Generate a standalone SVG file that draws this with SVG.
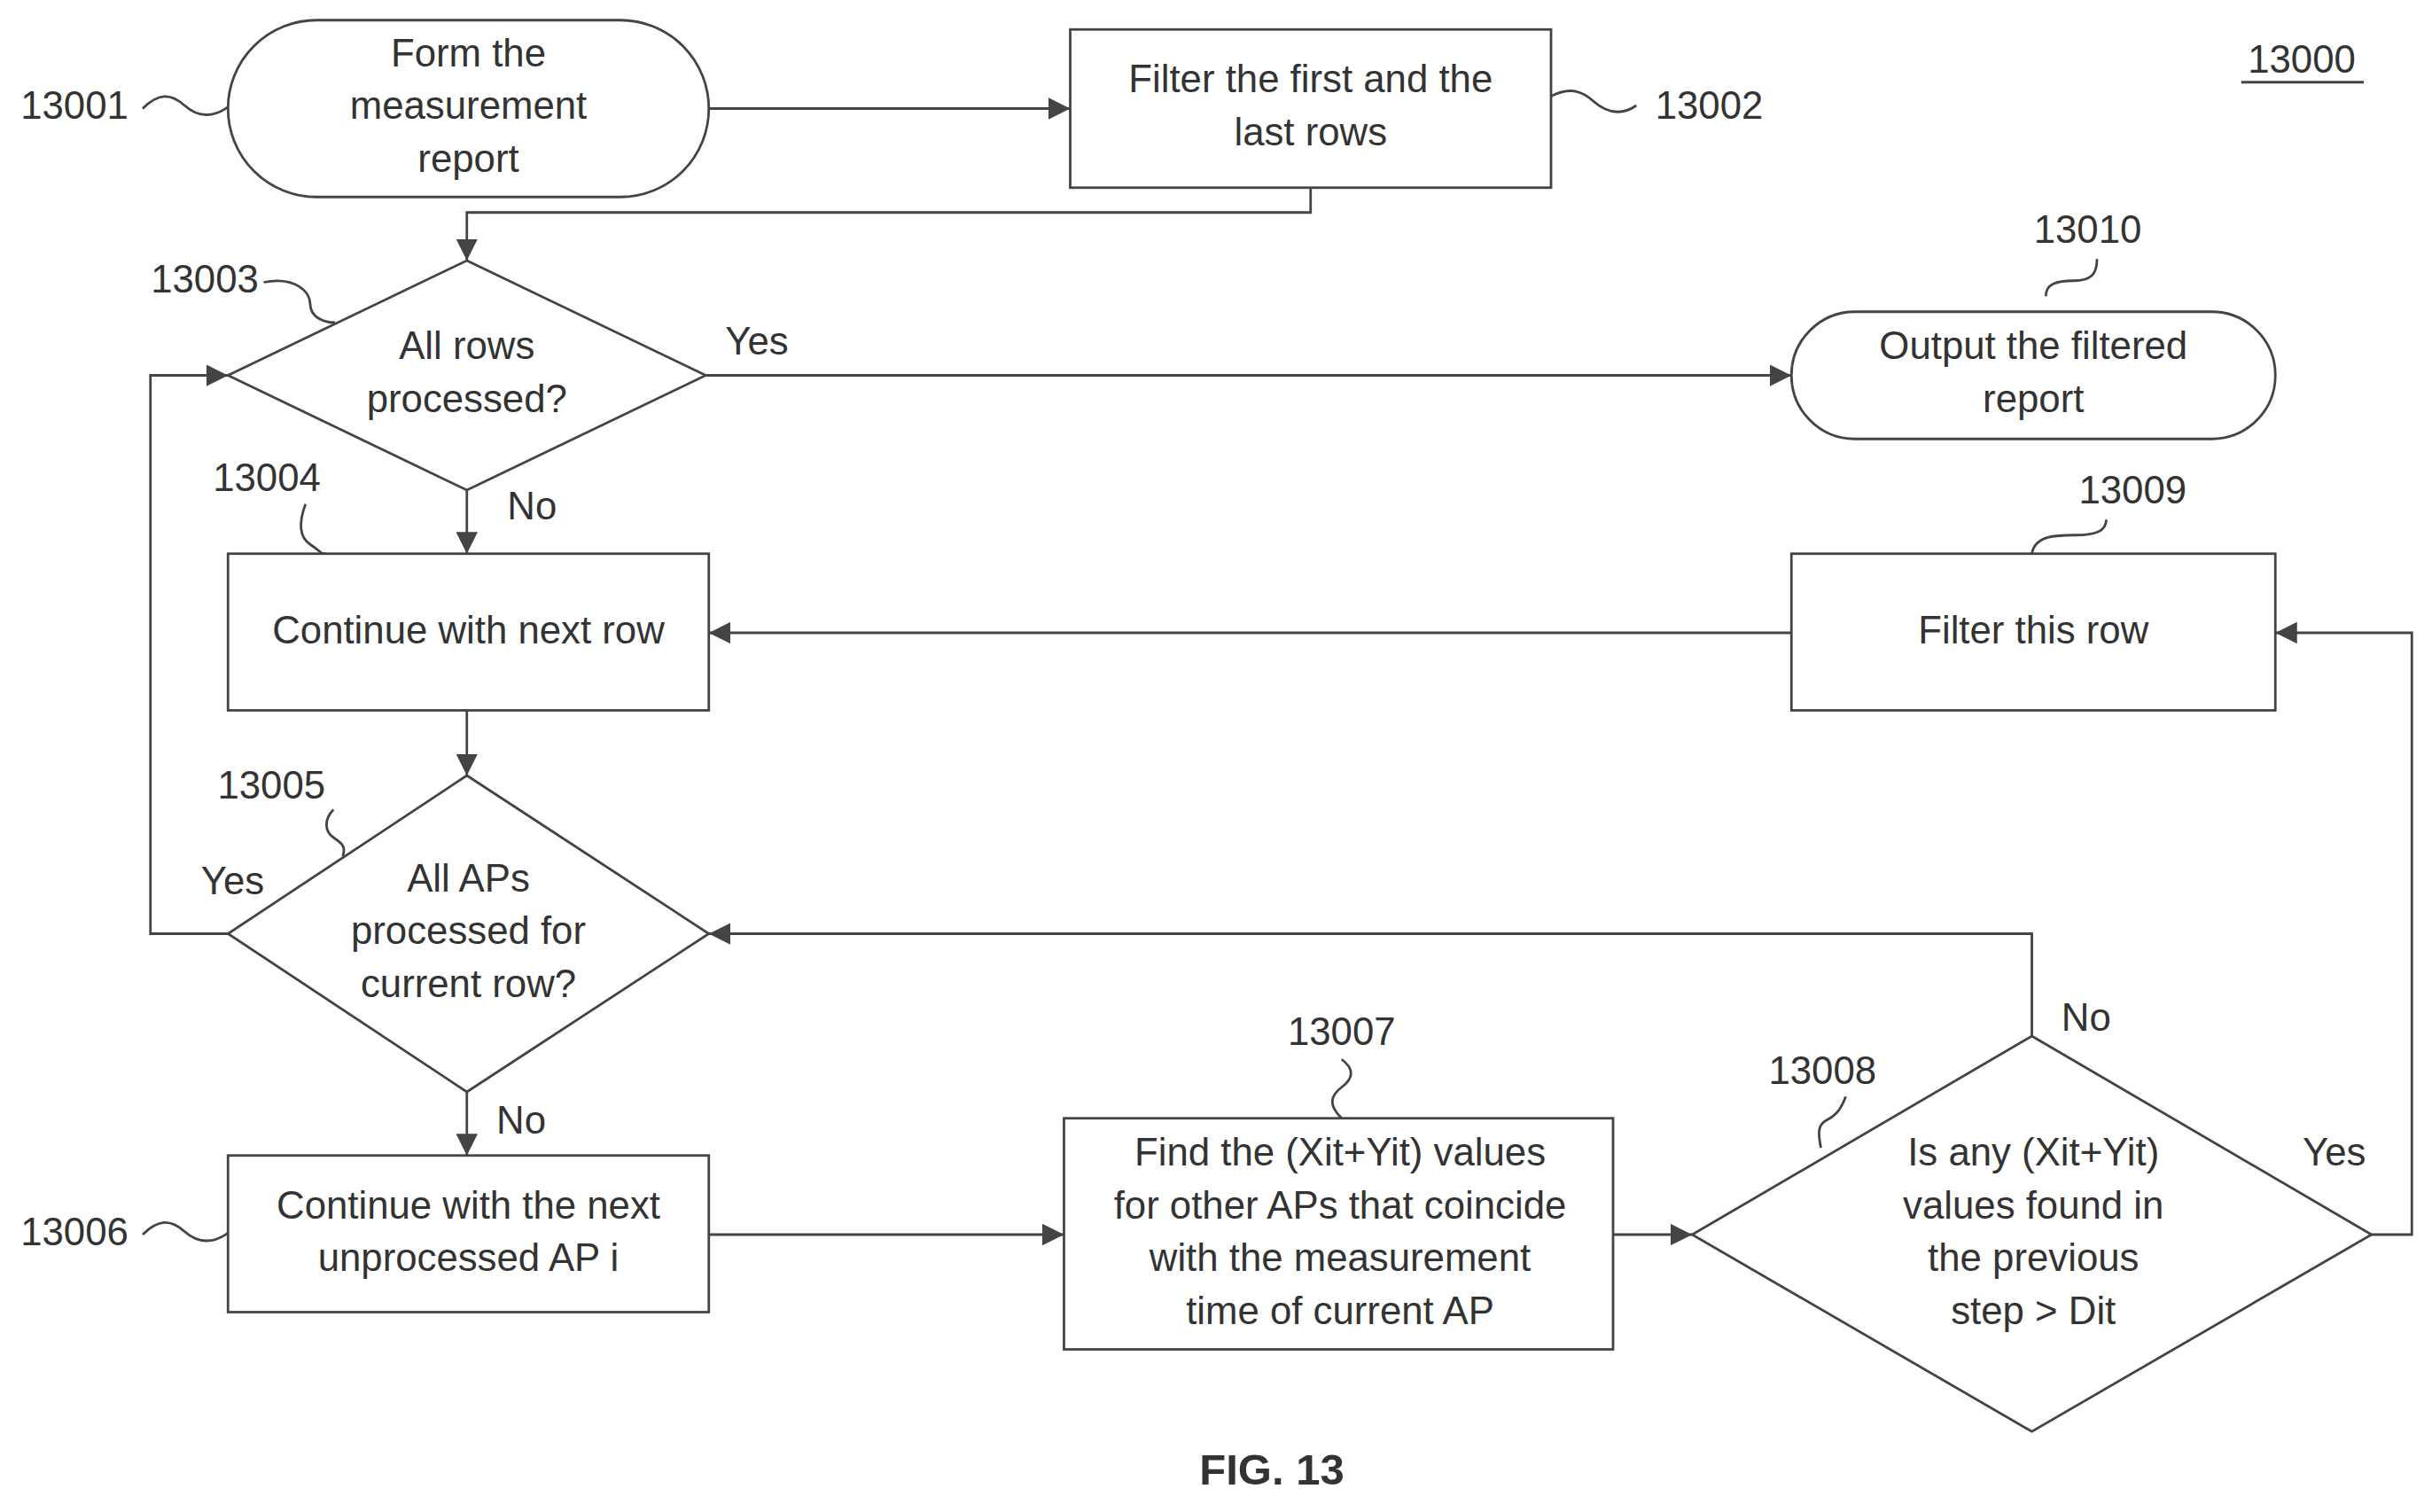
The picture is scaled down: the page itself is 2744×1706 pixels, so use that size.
<svg xmlns="http://www.w3.org/2000/svg" width="2744" height="1706" viewBox="0 0 2744 1706">
<style>
.s{fill:none;stroke:#444;stroke-width:1.6}
.n{fill:#fff;stroke:#444;stroke-width:1.6}
.t{font-family:"Liberation Sans",Arial,sans-serif;font-size:25px;fill:#333;text-anchor:middle;dominant-baseline:middle}
.l{font-family:"Liberation Sans",Arial,sans-serif;font-size:25px;fill:#333;dominant-baseline:middle}
</style>
<defs>
<marker id="a" viewBox="0 0 10 10" refX="10" refY="5" markerWidth="14" markerHeight="14" markerUnits="userSpaceOnUse" orient="auto"><path d="M0,0L10,5L0,10z" fill="#444"/></marker>
</defs>
<rect width="2744" height="1706" fill="#fff"/>
<g transform="scale(1.75)">
<g id="connectors" class="s">
<path d="M457,70H690" marker-end="url(#a)"/>
<path d="M845,121V137H301V168" marker-end="url(#a)"/>
<path d="M455,242H1155" marker-end="url(#a)"/>
<path d="M301,316V357" marker-end="url(#a)"/>
<path d="M1155,408H457" marker-end="url(#a)"/>
<path d="M301,458V500" marker-end="url(#a)"/>
<path d="M147,602H97V242H147" marker-end="url(#a)"/>
<path d="M301,704V745" marker-end="url(#a)"/>
<path d="M457,796H686" marker-end="url(#a)"/>
<path d="M1040,796H1091" marker-end="url(#a)"/>
<path d="M1310,668V602H457" marker-end="url(#a)"/>
<path d="M1529,796H1555V408H1467" marker-end="url(#a)"/>
<path d="M92,70c10,-10 18,-10 27,-2s18,8 28,1"/>
<path d="M1000,62c10,-5 18,-5 27,3s18,10 28,3"/>
<path d="M170,182c20,-4 30,6 30,14s8,12 16,12"/>
<path d="M197,325c-3,8 -6,20 3,26s6,6 10,6"/>
<path d="M215,522c-6,6 -6,14 0,18s8,6 6,12"/>
<path d="M92,796c10,-10 18,-10 27,-2s18,8 28,1"/>
<path d="M865,683c8,6 8,12 0,18s-8,12 0,20"/>
<path d="M1190,707c-3,8 -6,12 -12,15s-6,8 -4,18"/>
<path d="M1352,167c0,10 -4,14 -15,14s-18,2 -18,10"/>
<path d="M1358,335c0,8 -8,10 -20,10s-26,0 -28,12"/>
</g>
<g id="n13001"><rect class="n" x="147" y="13" width="310" height="114" rx="57"/><text class="t" x="302" y="36">Form the</text><text class="t" x="302" y="70">measurement</text><text class="t" x="302" y="104">report</text></g>
<g id="n13002"><rect class="n" x="690" y="19" width="310" height="102"/><text class="t" x="845" y="53">Filter the first and the</text><text class="t" x="845" y="87">last rows</text></g>
<g id="n13003"><path class="n" d="M301,168L455,242L301,316L147,242z"/><text class="t" x="301" y="225">All rows</text><text class="t" x="301" y="259">processed?</text></g>
<g id="n13010"><rect class="n" x="1155" y="201" width="312" height="82" rx="41"/><text class="t" x="1311" y="225">Output the filtered</text><text class="t" x="1311" y="259">report</text></g>
<g id="n13004"><rect class="n" x="147" y="357" width="310" height="101"/><text class="t" x="302" y="408">Continue with next row</text></g>
<g id="n13009"><rect class="n" x="1155" y="357" width="312" height="101"/><text class="t" x="1311" y="408">Filter this row</text></g>
<g id="n13005"><path class="n" d="M301,500L457,602L301,704L147,602z"/><text class="t" x="302" y="568">All APs</text><text class="t" x="302" y="602">processed for</text><text class="t" x="302" y="636">current row?</text></g>
<g id="n13006"><rect class="n" x="147" y="745" width="310" height="101"/><text class="t" x="302" y="779">Continue with the next</text><text class="t" x="302" y="813">unprocessed AP i</text></g>
<g id="n13007"><rect class="n" x="686" y="721" width="354" height="149"/><text class="t" x="864" y="745">Find the (Xit+Yit) values</text><text class="t" x="864" y="779">for other APs that coincide</text><text class="t" x="864" y="813">with the measurement</text><text class="t" x="864" y="847">time of current AP</text></g>
<g id="n13008"><path class="n" d="M1310,668L1529,796L1310,923L1091,796z"/><text class="t" x="1311" y="745">Is any (Xit+Yit)</text><text class="t" x="1311" y="779">values found in</text><text class="t" x="1311" y="813">the previous</text><text class="t" x="1311" y="847">step &gt; Dit</text></g>
<g id="labels">
<text class="t" x="488" y="222">Yes</text><text class="t" x="343" y="328">No</text><text class="t" x="150" y="570">Yes</text><text class="t" x="336" y="724">No</text><text class="t" x="1345" y="658">No</text><text class="t" x="1505" y="745">Yes</text>
<text class="t" x="48" y="70">13001</text><text class="t" x="1102" y="70">13002</text><text class="t" x="132" y="182">13003</text><text class="t" x="172" y="310">13004</text><text class="t" x="175" y="508">13005</text><text class="t" x="48" y="796">13006</text><text class="t" x="865" y="667">13007</text><text class="t" x="1175" y="692">13008</text><text class="t" x="1375" y="318">13009</text><text class="t" x="1346" y="150">13010</text>
<text class="t" x="1484" y="40">13000</text><path class="s" d="M1445,53H1524"/>
<text class="t" x="820" y="950" style="font-weight:bold;font-size:28px">FIG. 13</text>
</g>
</g>
</svg>
